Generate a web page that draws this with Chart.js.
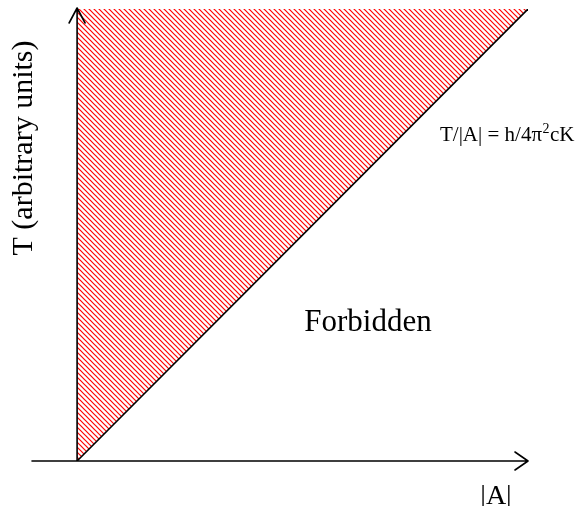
<!DOCTYPE html>
<html>
<head>
<meta charset="utf-8">
<script src="https://cdn.jsdelivr.net/npm/chart.js@4/dist/chart.umd.min.js"></script>
<style>
    body { margin: 0; background: #fff; }
    #wrap { width: 582px; height: 506px; position: relative; }
</style>
</head>
<body>
<div id="wrap"><canvas id="forbiddenChart"></canvas></div>
<script>
// boundary line T/|A| = const, from the origin to the top right corner
const boundaryX = [0, 1];
const boundaryY = [0, 1];
// upper edge of the allowed (hatched) region
const topEdgeX = [0, 1];
const topEdgeY = [1, 1];
// axis ranges
const xAxisRange = [-0.1, 1];
const yAxisRange = [0, 1];

const yLabel = 'T (arbitrary units)';
const xLabel = '|A|';
const lineLabelParts = ['T/|A| = h/4\u03C0', '2', 'cK'];
const regionLabel = 'Forbidden';

const serif = '"Liberation Serif", "Times New Roman", serif';

function toPoints(xs, ys) {
    return xs.map(function (x, i) { return { x: x, y: ys[i] }; });
}

function makeHatch() {
    const n = 5;
    const tile = document.createElement('canvas');
    tile.width = n;
    tile.height = n;
    const c = tile.getContext('2d');
    c.strokeStyle = '#ff0000';
    c.lineWidth = 1.2;
    c.beginPath();
    c.moveTo(-1, -1); c.lineTo(n + 1, n + 1);
    c.moveTo(-1, n - 1); c.lineTo(1, n + 1);
    c.moveTo(n - 1, -1); c.lineTo(n + 1, 1);
    c.stroke();
    return document.getElementById('forbiddenChart').getContext('2d').createPattern(tile, 'repeat');
}

// axes with arrow heads + the text labels
const axesPlugin = {
    id: 'axesPlugin',
    afterDatasetsDraw(chart) {
        const ctx = chart.ctx;
        const xs = chart.scales.x;
        const ys = chart.scales.y;
        const x0 = xs.getPixelForValue(0);
        const y0 = ys.getPixelForValue(0);
        const xEnd = xs.getPixelForValue(xAxisRange[1]);
        const xStart = xs.getPixelForValue(xAxisRange[0]);
        const yEnd = ys.getPixelForValue(yAxisRange[1]) - 1;

        ctx.save();
        ctx.strokeStyle = '#000';
        ctx.lineWidth = 1.6;
        ctx.lineCap = 'round';
        ctx.lineJoin = 'round';
        ctx.beginPath();
        // x axis
        ctx.moveTo(xStart, y0);
        ctx.lineTo(xEnd, y0);
        ctx.moveTo(xEnd - 13, y0 - 9);
        ctx.lineTo(xEnd, y0);
        ctx.lineTo(xEnd - 13, y0 + 9);
        // y axis
        ctx.moveTo(x0, y0);
        ctx.lineTo(x0, yEnd);
        ctx.moveTo(x0 - 8, yEnd + 15);
        ctx.lineTo(x0, yEnd);
        ctx.lineTo(x0 + 8, yEnd + 15);
        ctx.stroke();

        ctx.fillStyle = '#000';
        ctx.textBaseline = 'alphabetic';
        ctx.textAlign = 'center';
        ctx.font = '31px ' + serif;
        ctx.fillText(regionLabel, 368, 331);
        ctx.font = '28px ' + serif;
        ctx.fillText(xLabel, 496, 504);

        ctx.save();
        ctx.translate(32, 148);
        ctx.rotate(-Math.PI / 2);
        ctx.font = '30px ' + serif;
        ctx.fillText(yLabel, 0, 0);
        ctx.restore();

        // T/|A| = h/4pi^2 cK with a raised 2
        ctx.textAlign = 'left';
        let tx = 440;
        ctx.font = '21px ' + serif;
        ctx.fillText(lineLabelParts[0], tx, 141);
        tx += ctx.measureText(lineLabelParts[0]).width + 0.5;
        ctx.font = '14px ' + serif;
        ctx.fillText(lineLabelParts[1], tx, 133);
        tx += ctx.measureText(lineLabelParts[1]).width + 0.5;
        ctx.font = '21px ' + serif;
        ctx.fillText(lineLabelParts[2], tx, 141);
        ctx.restore();
    }
};

const hatch = makeHatch();

new Chart(document.getElementById('forbiddenChart').getContext('2d'), {
    type: 'line',
    data: {
        datasets: [{
            label: 'boundary',
            data: toPoints(boundaryX, boundaryY),
            borderColor: '#000',
            borderWidth: 1.6,
            pointRadius: 0,
            fill: false
        }, {
            label: 'allowed',
            data: toPoints(topEdgeX, topEdgeY),
            borderWidth: 0,
            borderColor: 'rgba(0,0,0,0)',
            pointRadius: 0,
            backgroundColor: hatch,
            fill: { target: 0 }
        }]
    },
    options: {
        responsive: true,
        maintainAspectRatio: false,
        animation: false,
        layout: { padding: { left: 32, right: 54, top: 9, bottom: 45 } },
        plugins: {
            legend: { display: false },
            tooltip: { enabled: false },
            filler: { drawTime: 'beforeDatasetsDraw' }
        },
        scales: {
            x: { type: 'linear', min: xAxisRange[0], max: xAxisRange[1], display: false },
            y: { type: 'linear', min: yAxisRange[0], max: yAxisRange[1], display: false }
        }
    },
    plugins: [axesPlugin]
});
</script>
</body>
</html>
